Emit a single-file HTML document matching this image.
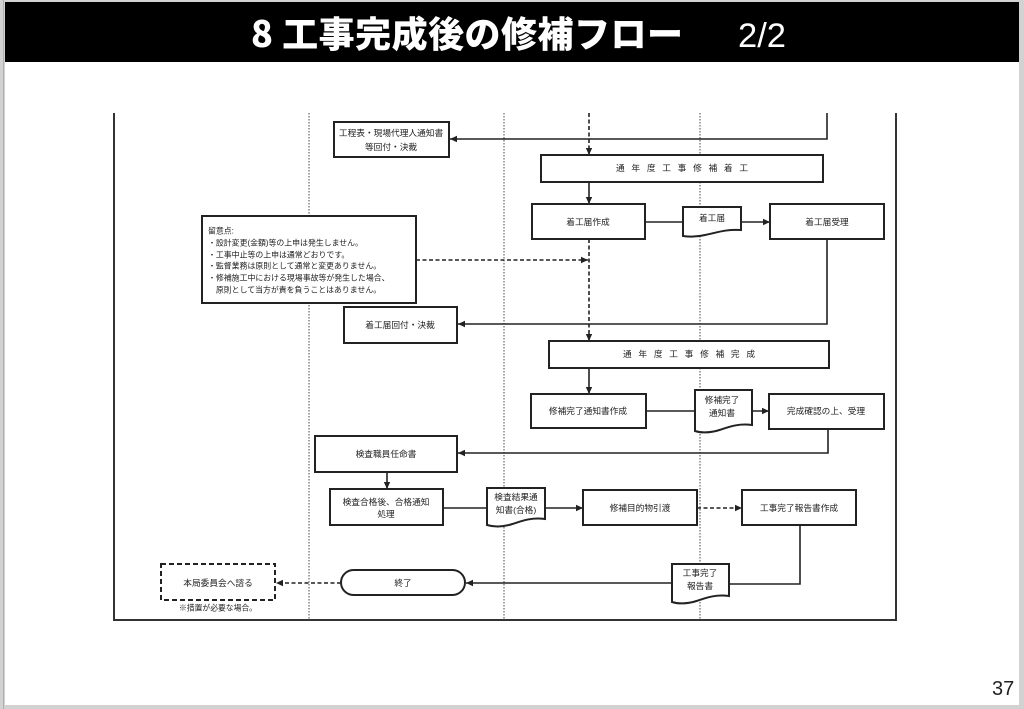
<!DOCTYPE html>
<html><head><meta charset="utf-8">
<style>
html,body{margin:0;padding:0;background:#fff;}
svg{display:block;}
text{font-family:"Liberation Sans","Noto Sans CJK JP",sans-serif;fill:#222;}
</style></head>
<body>
<svg width="1024" height="709" viewBox="0 0 1024 709" xmlns="http://www.w3.org/2000/svg">
<defs>
<marker id="a" markerUnits="userSpaceOnUse" markerWidth="8" markerHeight="8" refX="7" refY="4" orient="auto">
<path d="M0,0.8 L7,4 L0,7.2 Z" fill="#222"/>
</marker>
</defs>
<!-- page -->
<rect x="0" y="0" width="1024" height="709" fill="#d2d2d2"/>
<rect x="5" y="2" width="1014" height="703" fill="#fff"/>
<line x1="3.5" y1="0" x2="3.5" y2="709" stroke="#b0b0b0" stroke-width="1"/>
<rect x="5" y="2" width="1014" height="60" fill="#000"/>
<text x="251" y="47" font-size="36" font-weight="bold" textLength="432" style="fill:#fff;font-family:'Noto Sans CJK JP','Liberation Sans',sans-serif;font-weight:900">8 工事完成後の修補フロー</text>
<text x="738" y="47" font-size="34" textLength="48" lengthAdjust="spacingAndGlyphs" style="fill:#fff">2/2</text>
<text x="992" y="695" font-size="20" style="fill:#222">37</text>

<!-- frame -->
<path d="M114,113 V620 H896 V113" fill="none" stroke="#333" stroke-width="2"/>
<g stroke="#444" stroke-width="1" stroke-dasharray="1.5,1.5">
<line x1="309" y1="113" x2="309" y2="619"/>
<line x1="504" y1="113" x2="504" y2="619"/>
<line x1="700" y1="113" x2="700" y2="619"/>
</g>

<!-- connectors -->
<g fill="none" stroke="#222" stroke-width="1.6">
<polyline points="827,113 827,139 450,139" marker-end="url(#a)"/>
<line x1="589" y1="182" x2="589" y2="204" marker-end="url(#a)"/>
<line x1="645" y1="222" x2="683" y2="222"/>
<line x1="741" y1="222" x2="770" y2="222" marker-end="url(#a)"/>
<polyline points="827,239 827,324 458,324" marker-end="url(#a)"/>
<line x1="589" y1="368" x2="589" y2="394" marker-end="url(#a)"/>
<line x1="646" y1="411" x2="695" y2="411"/>
<line x1="752" y1="411" x2="769" y2="411" marker-end="url(#a)"/>
<polyline points="828,429 828,453 458,453" marker-end="url(#a)"/>
<line x1="387" y1="472" x2="387" y2="489" marker-end="url(#a)"/>
<line x1="443" y1="508" x2="487" y2="508"/>
<line x1="545" y1="508" x2="583" y2="508" marker-end="url(#a)"/>
<polyline points="800,525 800,584 729,584"/>
<line x1="672" y1="583" x2="466" y2="583" marker-end="url(#a)"/>
</g>
<g fill="none" stroke="#222" stroke-width="1.6" stroke-dasharray="4,2.5">
<line x1="589" y1="113" x2="589" y2="155" marker-end="url(#a)"/>
<line x1="589" y1="239" x2="589" y2="341" marker-end="url(#a)"/>
<line x1="416" y1="260" x2="588" y2="260" marker-end="url(#a)"/>
<line x1="697" y1="508" x2="742" y2="508" marker-end="url(#a)"/>
<line x1="341" y1="583" x2="276" y2="583" marker-end="url(#a)"/>
</g>

<!-- boxes -->
<g fill="#fff" stroke="#222" stroke-width="2">
<rect x="334" y="122" width="115" height="35"/>
<rect x="541" y="155" width="282" height="27"/>
<rect x="532" y="204" width="113" height="35"/>
<rect x="770" y="204" width="114" height="35"/>
<rect x="202" y="216" width="214" height="87"/>
<rect x="344" y="307" width="113" height="36"/>
<rect x="549" y="341" width="280" height="27"/>
<rect x="531" y="394" width="115" height="34"/>
<rect x="769" y="394" width="115" height="35"/>
<rect x="315" y="436" width="142" height="36"/>
<rect x="330" y="489" width="113" height="36"/>
<rect x="583" y="490" width="114" height="35"/>
<rect x="742" y="490" width="114" height="35"/>
<rect x="341" y="570" width="124" height="25" rx="12.5" ry="12.5"/>
<!-- documents -->
<path d="M683,207 H741 V230 C725,229 716,233 705,235 C697,237 690,237 683,236 Z"/>
<path d="M695,390 H752 V425 C736,423 727,428 716,431 C707,433 701,433 695,431 Z"/>
<path d="M487,488 H545 V519 C529,517 520,522 509,525 C500,527 494,527 487,525 Z"/>
<path d="M672,564 H729 V596 C713,594 704,599 693,602 C684,604 678,604 672,602 Z"/>
</g>
<rect x="161" y="564" width="114" height="36" fill="#fff" stroke="#222" stroke-width="2" stroke-dasharray="5,3"/>

<!-- labels -->
<g font-size="8.7" text-anchor="middle" dominant-baseline="central">
<text x="391" y="133">工程表・現場代理人通知書</text>
<text x="391" y="147">等回付・決裁</text>
<text x="682" y="168" textLength="132">通年度工事修補着工</text>
<text x="588" y="222">着工届作成</text>
<text x="712" y="218">着工届</text>
<text x="827" y="222">着工届受理</text>
<text x="400" y="325">着工届回付・決裁</text>
<text x="689" y="354" textLength="132">通年度工事修補完成</text>
<text x="588" y="411">修補完了通知書作成</text>
<text x="722" y="400">修補完了</text>
<text x="722" y="413">通知書</text>
<text x="826" y="411">完成確認の上、受理</text>
<text x="386" y="454">検査職員任命書</text>
<text x="386" y="502">検査合格後、合格通知</text>
<text x="386" y="514">処理</text>
<text x="516" y="497">検査結果通</text>
<text x="516" y="510">知書(合格)</text>
<text x="640" y="508">修補目的物引渡</text>
<text x="799" y="508">工事完了報告書作成</text>
<text x="700" y="573">工事完了</text>
<text x="700" y="586">報告書</text>
<text x="403" y="583">終了</text>
<text x="218" y="583">本局委員会へ諮る</text>
<text x="218" y="608" font-size="7.8">※措置が必要な場合。</text>
</g>
<g font-size="7.9" dominant-baseline="central">
<text x="208" y="231">留意点:</text>
<text x="208" y="243">・設計変更(金額)等の上申は発生しません。</text>
<text x="208" y="255">・工事中止等の上申は通常どおりです。</text>
<text x="208" y="266">・監督業務は原則として通常と変更ありません。</text>
<text x="208" y="278">・修補施工中における現場事故等が発生した場合、</text>
<text x="208" y="290">　原則として当方が責を負うことはありません。</text>
</g>
</svg>
</body></html>
